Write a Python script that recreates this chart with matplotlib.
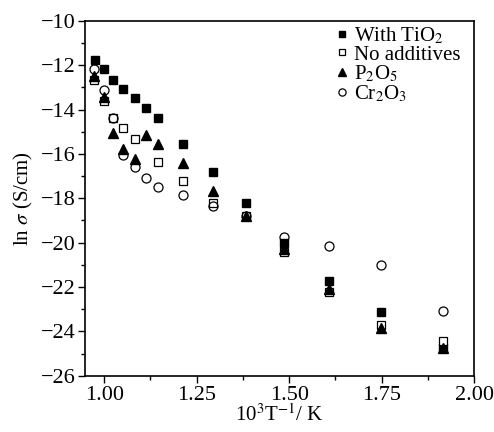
import numpy as np
import matplotlib
matplotlib.use("Agg")
import matplotlib.pyplot as plt
from matplotlib.ticker import MultipleLocator

plt.rcParams['font.family'] = ['Liberation Serif', 'DejaVu Serif']
plt.rcParams['mathtext.fontset'] = 'stix'

# ----------------- datos -----------------
x_tio2 = [0.976, 1.000, 1.025, 1.052, 1.082, 1.112, 1.145, 1.214, 1.294, 1.383, 1.486, 1.607, 1.749, 1.916]
y_tio2 = [-11.75, -12.17, -12.65, -13.07, -13.49, -13.92, -14.36, -15.56, -16.83, -18.20, -20.01, -21.74, -23.14, -24.75]

x_none = [0.973, 1.000, 1.025, 1.052, 1.082, 1.145, 1.214, 1.294, 1.383, 1.486, 1.607, 1.749, 1.916]
y_none = [-12.65, -13.63, -14.40, -14.82, -15.35, -16.35, -17.22, -18.19, -18.80, -20.40, -22.24, -23.70, -24.45]

x_p2o5 = [0.973, 1.000, 1.025, 1.052, 1.082, 1.112, 1.145, 1.214, 1.294, 1.383, 1.486, 1.607, 1.749, 1.916]
y_p2o5 = [-12.50, -13.43, -15.05, -15.80, -16.22, -15.14, -15.56, -16.43, -17.67, -18.80, -20.28, -22.08, -23.85, -24.75]

x_cr2o3 = [0.973, 1.000, 1.025, 1.052, 1.082, 1.112, 1.145, 1.214, 1.294, 1.383, 1.486, 1.607, 1.749, 1.916]
y_cr2o3 = [-12.17, -13.13, -14.37, -16.07, -16.59, -17.07, -17.51, -17.85, -18.34, -18.80, -19.76, -20.13, -20.99, -23.10]

fig = plt.figure(figsize=(4.94, 4.32), dpi=100)
ax = fig.add_axes([0.172, 0.130, 0.788, 0.822])

ax.plot(x_tio2, y_tio2, 's', color='black', markersize=5.5, linestyle='none', label='With TiO$_2$')
ax.plot(x_none, y_none, 's', mfc='white', mec='black', mew=0.9, markersize=5.5, linestyle='none', label='No additives')
ax.plot(x_p2o5, y_p2o5, '^', color='black', markersize=7, linestyle='none', label='P$_2$O$_5$')
ax.plot(x_cr2o3, y_cr2o3, 'o', mfc='none', mec='black', mew=0.9, markersize=6.5, linestyle='none', label='Cr$_2$O$_3$')

ax.set_xlim(0.948, 2.00)
ax.set_ylim(-26, -10)
ax.xaxis.set_major_locator(MultipleLocator(0.25))
ax.xaxis.set_minor_locator(MultipleLocator(0.125))
ax.yaxis.set_major_locator(MultipleLocator(2))
ax.yaxis.set_minor_locator(MultipleLocator(1))
ax.xaxis.set_major_formatter(matplotlib.ticker.FormatStrFormatter('%.2f'))
ax.yaxis.set_major_formatter(matplotlib.ticker.FuncFormatter(lambda v, p: f'\u2212{abs(int(v))}'))
ax.tick_params(which='both', direction='out', top=False, right=False, labelsize=16, pad=2)
ax.tick_params(which='major', length=5, width=1)
ax.tick_params(which='minor', length=3, width=1)
for s in ax.spines.values():
    s.set_linewidth(1.2)

ax.set_xlabel('10$^3$T$^{-1}$/ K', fontsize=15, labelpad=0)
ax.set_ylabel('ln $\\sigma$ (S/cm)', fontsize=15, labelpad=4)

ax.legend(loc='upper right', frameon=False, fontsize=15, handletextpad=0.1,
          labelspacing=-0.05, markerscale=0.8, handlelength=0.9,
          bbox_to_anchor=(0.985, 1.01), borderaxespad=0.0)

plt.savefig('out.png', dpi=100)
plt.close()
